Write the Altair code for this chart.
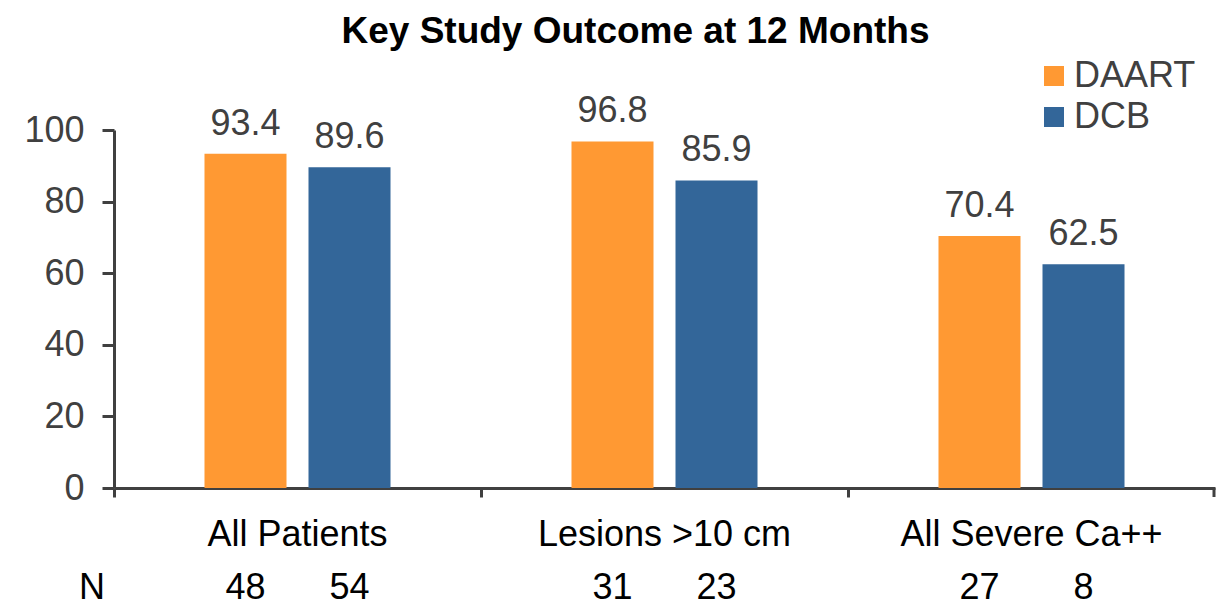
import altair as alt
import pandas as pd

categories = ["All Patients", "Lesions >10 cm", "All Severe Ca++"]
series = ["DAART", "DCB"]
daart_values = [93.4, 96.8, 70.4]
dcb_values = [89.6, 85.9, 62.5]
daart_n = [48, 31, 27]
dcb_n = [54, 23, 8]
colors = ["#FF9933", "#336699"]

rows = []
for i, c in enumerate(categories):
    rows.append({"category": c, "series": "DAART", "value": daart_values[i], "n": daart_n[i]})
    rows.append({"category": c, "series": "DCB", "value": dcb_values[i], "n": dcb_n[i]})
df = pd.DataFrame(rows)

W, H = 1101, 358
FONT = "Liberation Sans"
GRAY = "#404040"

x_enc = alt.X(
    "category:N",
    sort=categories,
    scale=alt.Scale(paddingInner=0, paddingOuter=0),
    axis=alt.Axis(
        title=None,
        bandPosition=0,
        labelFontSize=36,
        labelColor="black",
        labelFont=FONT,
        labelPadding=20,
        labelAngle=0,
        labelLimit=0,
        tickSize=9,
        tickWidth=3,
        tickColor=GRAY,
        domainWidth=3,
        domainColor=GRAY,
    ),
)
xoff = alt.XOffset(
    "series:N",
    sort=series,
    scale=alt.Scale(paddingInner=0.2115, paddingOuter=0.87),
)
y_enc = alt.Y(
    "value:Q",
    scale=alt.Scale(domain=[0, 100], nice=False, zero=True),
    axis=alt.Axis(
        title=None,
        values=[0, 20, 40, 60, 80, 100],
        labelFontSize=36,
        labelColor=GRAY,
        labelFont=FONT,
        labelPadding=18,
        tickSize=12,
        tickWidth=3,
        tickColor=GRAY,
        domainWidth=3,
        domainColor=GRAY,
        grid=False,
    ),
)

base = alt.Chart(df)

bars = base.mark_bar().encode(
    x=x_enc,
    xOffset=xoff,
    y=y_enc,
    color=alt.Color(
        "series:N",
        sort=series,
        scale=alt.Scale(domain=series, range=colors),
        legend=alt.Legend(
            title=None,
            orient="none",
            legendX=922,
            legendY=-72,
            symbolType="square",
            symbolSize=400,
            symbolStrokeWidth=0,
            labelFontSize=36,
            labelFont=FONT,
            labelColor=GRAY,
            labelOffset=2,
            rowPadding=5,
            padding=0,
        ),
    ),
)

value_labels = base.mark_text(
    fontSize=36, font=FONT, color=GRAY, baseline="alphabetic", dy=-19
).encode(
    x=alt.X("category:N", sort=categories),
    xOffset=alt.XOffset("series:N", sort=series),
    y=alt.Y("value:Q"),
    text=alt.Text("value:Q", format=".1f"),
)

n_labels = base.mark_text(
    fontSize=36, font=FONT, color="black", baseline="alphabetic"
).encode(
    x=alt.X("category:N", sort=categories),
    xOffset=alt.XOffset("series:N", sort=series),
    y=alt.value(H + 111),
    text=alt.Text("n:Q"),
)

n_title = alt.Chart(pd.DataFrame({"label": ["N"]})).mark_text(
    fontSize=36, font=FONT, color="black", baseline="alphabetic"
).encode(
    x=alt.value(-22),
    y=alt.value(H + 111),
    text="label:N",
)

end_tick = alt.Chart(pd.DataFrame({"label": ["end"]})).mark_rule(
    color=GRAY, strokeWidth=3
).encode(
    x=alt.value(W - 1),
    y=alt.value(H),
    y2=alt.value(H + 9),
)

chart = (
    alt.layer(bars, value_labels, n_labels, n_title, end_tick)
    .properties(
        width=W,
        height=H,
        autosize=alt.AutoSizeParams(type="none"),
        padding={"left": 114, "top": 130, "right": 15, "bottom": 119},
        title=alt.Title(
            "Key Study Outcome at 12 Months",
            fontSize=37,
            fontWeight="bold",
            font=FONT,
            color="black",
            anchor="middle",
            dx=-29,
            baseline="alphabetic",
            offset=-22,
        ),
    )
    .configure_view(stroke=None)
)

chart.save("out.html", embed_options={"renderer": "svg", "actions": False})
